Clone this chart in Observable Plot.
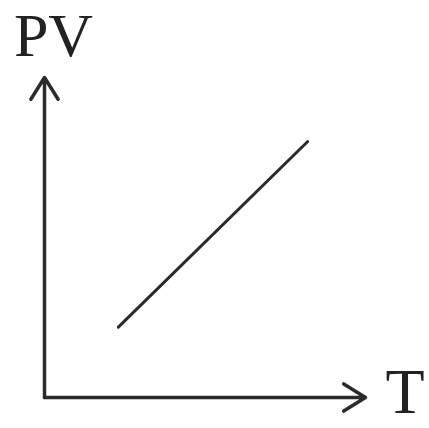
<!DOCTYPE html>
<html>
<head>
<meta charset="utf-8">
<script src="https://cdn.jsdelivr.net/npm/d3@7"></script>
<script src="https://cdn.jsdelivr.net/npm/@observablehq/plot@0.6"></script>
<style>
  html, body { margin: 0; padding: 0; background: #fff; }
</style>
</head>
<body>
<div id="chart"></div>
<script>
// Data (arbitrary units; schematic PV vs T relationship)
const tValues = [0.23, 0.82];
const pvValues = [0.22, 0.80];
const xLabel = "T";
const yLabel = "PV";
const axisMax = 1;

const lineData = tValues.map((t, i) => ({T: t, PV: pvValues[i]}));
const axes = [
  {x1: 0, y1: 0, x2: 0, y2: axisMax},
  {x1: 0, y1: 0, x2: axisMax, y2: 0}
];

const ink = "#2b2b2b";
const chart = Plot.plot({
  width: 429,
  height: 428,
  marginLeft: 44,
  marginRight: 64,
  marginTop: 77,
  marginBottom: 31,
  x: {domain: [0, axisMax], axis: null},
  y: {domain: [0, axisMax], axis: null},
  style: {background: "#fff"},
  marks: [
    Plot.arrow(axes, {x1: "x1", y1: "y1", x2: "x2", y2: "y2", stroke: ink, strokeWidth: 3.5, headLength: 11, headAngle: 64, bend: 0}),
    Plot.line(lineData, {x: "T", y: "PV", stroke: ink, strokeWidth: 3}),
    Plot.text([yLabel], {x: () => 0, y: () => axisMax, text: d => d, textAnchor: "middle", lineAnchor: "bottom", dx: 9, dy: -22, fontSize: 62, fontFamily: "Liberation Serif", fill: "#222"}),
    Plot.text([xLabel], {x: () => axisMax, y: () => 0, text: d => d, textAnchor: "start", lineAnchor: "bottom", dx: 20, dy: 15, fontSize: 64, fontFamily: "Liberation Serif", fill: "#222"})
  ]
});
document.getElementById("chart").appendChild(chart);
</script>
</body>
</html>
